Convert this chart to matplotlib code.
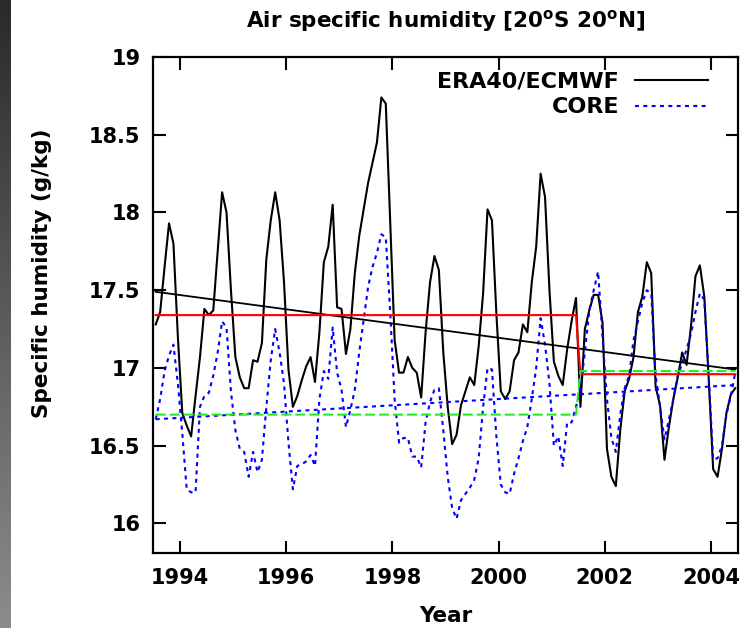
import numpy as np
import matplotlib
matplotlib.use("Agg")
import matplotlib.pyplot as plt
from matplotlib.ticker import FuncFormatter
from matplotlib.colors import LinearSegmentedColormap

# monthly specific humidity (g/kg), 20S-20N, Jul 1993 .. Jun 2004
era40 = [
    17.28, 17.36, 17.65, 17.93, 17.80, 17.20,                                       # 1993 (Jul-Dec)
    16.71, 16.63, 16.56, 16.82, 17.07, 17.38, 17.34, 17.37, 17.75, 18.13, 18.00, 17.50,  # 1994
    17.07, 16.94, 16.87, 16.87, 17.05, 17.04, 17.16, 17.70, 17.95, 18.13, 17.95, 17.55,  # 1995
    16.99, 16.75, 16.82, 16.92, 17.01, 17.07, 16.91, 17.23, 17.68, 17.78, 18.05, 17.39,  # 1996
    17.38, 17.09, 17.25, 17.61, 17.85, 18.02, 18.19, 18.32, 18.45, 18.74, 18.70, 17.94,  # 1997
    17.18, 16.97, 16.97, 17.07, 17.00, 16.97, 16.81, 17.23, 17.55, 17.72, 17.63, 17.10,  # 1998
    16.75, 16.51, 16.57, 16.76, 16.85, 16.94, 16.89, 17.14, 17.48, 18.02, 17.95, 17.35,  # 1999
    16.85, 16.80, 16.85, 17.05, 17.10, 17.28, 17.23, 17.55, 17.78, 18.25, 18.10, 17.50,  # 2000
    17.04, 16.95, 16.89, 17.12, 17.30, 17.45, 16.75, 17.25, 17.37, 17.47, 17.47, 17.29,  # 2001
    16.48, 16.30, 16.24, 16.60, 16.85, 16.93, 17.07, 17.36, 17.46, 17.68, 17.61, 16.88,  # 2002
    16.76, 16.41, 16.62, 16.80, 16.94, 17.10, 17.02, 17.27, 17.59, 17.66, 17.46, 16.93,  # 2003
    16.35, 16.30, 16.48, 16.71, 16.83, 16.87,                                       # 2004 (Jan-Jun)
]
core = [
    16.67, 16.80, 16.98, 17.08, 17.15, 16.90,
    16.58, 16.22, 16.20, 16.20, 16.75, 16.82, 16.84, 16.95, 17.10, 17.30, 17.26, 16.85,
    16.60, 16.48, 16.46, 16.30, 16.46, 16.33, 16.41, 16.75, 17.05, 17.25, 17.10, 16.90,
    16.52, 16.22, 16.37, 16.38, 16.40, 16.44, 16.37, 16.80, 16.98, 16.93, 17.26, 16.97,
    16.86, 16.62, 16.73, 16.86, 17.10, 17.31, 17.52, 17.65, 17.74, 17.86, 17.84, 17.36,
    16.80, 16.52, 16.55, 16.55, 16.43, 16.43, 16.36, 16.65, 16.78, 16.86, 16.87, 16.60,
    16.30, 16.10, 16.03, 16.15, 16.19, 16.23, 16.28, 16.42, 16.75, 17.00, 16.99, 16.56,
    16.25, 16.20, 16.19, 16.32, 16.42, 16.53, 16.62, 16.80, 17.00, 17.32, 17.15, 16.90,
    16.50, 16.56, 16.37, 16.65, 16.65, 16.75, 16.86, 17.10, 17.37, 17.50, 17.62, 17.20,
    16.80, 16.55, 16.46, 16.70, 16.87, 16.95, 17.18, 17.30, 17.42, 17.50, 17.48, 16.95,
    16.75, 16.54, 16.67, 16.80, 16.95, 17.03, 17.12, 17.22, 17.36, 17.48, 17.44, 16.95,
    16.41, 16.42, 16.50, 16.70, 16.82, 16.97,
]

# linear trends (first month, last month)
era40_trend = [17.49, 16.99]
core_trend = [16.67, 16.89]
# period means before / after mid 2001
era40_means = [17.34, 16.96]
core_means = [16.70, 16.98]
break_year = 2001.5

year_ticks = [1994, 1996, 1998, 2000, 2002, 2004]
hum_ticks = [16, 16.5, 17, 17.5, 18, 18.5, 19]

plt.rcParams['font.family'] = 'DejaVu Sans'
plt.rcParams['font.weight'] = 'bold'
plt.rcParams['font.size'] = 15
plt.rcParams['mathtext.fontset'] = 'dejavusans'

t = 1993.5 + (np.arange(len(era40)) + 0.5) / 12.0
t_ends = [t[0], t[-1]]
era40_step = np.where(t < break_year, era40_means[0], era40_means[1])
core_step = np.where(t < break_year, core_means[0], core_means[1])

fig = plt.figure(figsize=(7.54, 6.28), dpi=100)

# dark strip on the left edge
gax = fig.add_axes([0, 0, 11 / 754, 1])
grad = LinearSegmentedColormap.from_list('strip', ['#2a2a2a', '#8c8c8c'])
gax.imshow(np.linspace(0, 1, 256).reshape(-1, 1), cmap=grad, aspect='auto')
gax.axis('off')

ax = fig.add_axes([153 / 754, 75 / 628, 585 / 754, 496 / 628])

ax.plot(t, era40, color='black', lw=1.5, label='ERA40/ECMWF')
ax.plot(t, core, color='#0000ff', lw=1.5, ls=(0, (1.9, 2.1)), label='CORE')
ax.plot(t_ends, era40_trend, color='black', lw=1.3)
ax.plot(t_ends, core_trend, color='#0000ff', lw=1.5, ls=(0, (1.9, 2.1)))
ax.plot(t, era40_step, color='#ff0000', lw=1.5)
ax.plot(t, core_step, color='#22ee22', lw=1.5, ls=(0, (4.8, 1.9)))

ax.set_xlim(1993.49, 2004.51)
ax.set_ylim(15.81, 19.0)
ax.set_xticks(year_ticks)
ax.set_yticks(hum_ticks)
ax.yaxis.set_major_formatter(FuncFormatter(lambda v, p: '%g' % v))
ax.tick_params(direction='in', length=9, width=1.5, top=True, right=True, labelsize=15)
ax.tick_params(axis='y', pad=9)
ax.tick_params(axis='x', pad=11)
for s in ax.spines.values():
    s.set_linewidth(1.6)

ax.set_title(r'Air specific humidity [20$^{\mathbf{o}}$S 20$^{\mathbf{o}}$N]',
             fontsize=15.5, fontweight='bold', pad=21)
ax.set_xlabel('Year', fontsize=15.5, fontweight='bold', labelpad=13)
ax.set_ylabel('Specific humidity (g/kg)', fontsize=15.5, fontweight='bold')
ax.yaxis.set_label_coords(-0.172, 0.565)

ax.legend(loc='upper right', bbox_to_anchor=(1 - 21 / 585, 1 - 6 / 496),
          frameon=False, markerfirst=False,
          handlelength=3.3, handletextpad=0.7, labelspacing=0.25,
          borderaxespad=0, borderpad=0.4, fontsize=16)

fig.savefig('out.png', dpi=100)
